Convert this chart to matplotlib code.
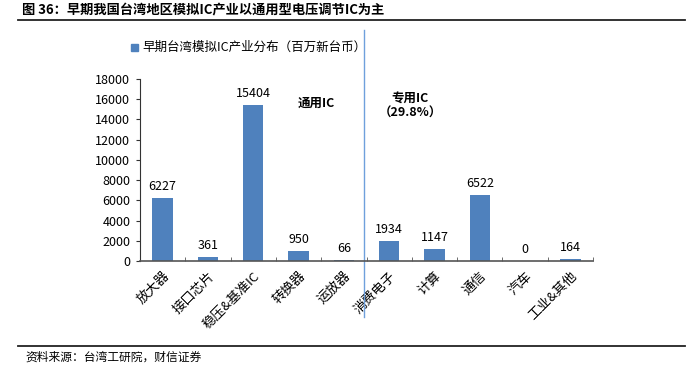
import matplotlib
matplotlib.use("Agg")
import matplotlib.pyplot as plt
from matplotlib.lines import Line2D

plt.rcParams['font.family'] = ['Noto Sans CJK SC', 'DejaVu Sans']

categories = ["放大器", "接口芯片", "稳压&基准IC", "转换器", "运放器",
              "消费电子", "计算", "通信", "汽车", "工业&其他"]
values = [6227, 361, 15404, 950, 66, 1934, 1147, 6522, 0, 164]
series_name = "早期台湾模拟IC产业分布（百万新台币）"
yticks = list(range(0, 18001, 2000))

bar_color = "#4F81BD"

fig = plt.figure(figsize=(6.88, 3.78), dpi=100)
ax = fig.add_axes([0.2035, 0.3095, 0.6585, 0.4815])

x = list(range(len(categories)))
bars = ax.bar(x, values, width=0.45, color=bar_color, label=series_name)
for xi, v in zip(x, values):
    ax.text(xi, v + 500, f"{v}", ha="center", va="bottom", fontsize=9)

ax.set_xlim(-0.5, len(categories) - 0.5)
ax.set_ylim(0, 18000)
ax.set_yticks(yticks)
ax.set_yticklabels([str(t) for t in yticks], fontsize=9)
ax.set_xticks(x)
ax.set_xticklabels(categories, rotation=45, ha="right", rotation_mode="anchor", fontsize=9.5)
ax.tick_params(axis="x", length=0, pad=6)
ax.tick_params(axis="y", direction="out", length=3, color="#333333", pad=4)
ax.set_xticks([i + 0.5 for i in range(-1, len(categories))], minor=True)
ax.tick_params(axis="x", which="minor", direction="in", length=3, color="#555555")
for s in ["top", "right"]:
    ax.spines[s].set_visible(False)
ax.spines["left"].set_color("#333333")
ax.spines["bottom"].set_color("#555555")
ax.spines["bottom"].set_linewidth(1.2)

# divider between generic and dedicated IC
ax.plot([4.45, 4.45], [-5500, 22800], color="#6FA0DC", lw=1.0, clip_on=False)

ax.text(3.39, 15600, "通用IC", ha="center", va="center", fontsize=9, fontweight="bold")
ax.text(5.46, 16100, "专用IC", ha="center", va="center", fontsize=9, fontweight="bold")
ax.text(5.46, 14600, "（29.8%）", ha="center", va="center", fontsize=9, fontweight="bold")

# legend
fig.patches.append(plt.Rectangle((131 / 688, 1 - 51 / 378), 7 / 688, 7 / 378,
                                 transform=fig.transFigure, color=bar_color))
fig.text(142 / 688, 1 - 47.5 / 378, series_name, fontsize=9, va="center", ha="left")

# header / footer
fig.text(22 / 688, 1 - 10 / 378, "图 36：早期我国台湾地区模拟IC产业以通用型电压调节IC为主",
         fontsize=9.5, fontweight="bold", va="center", ha="left")
fig.add_artist(Line2D([18 / 688, 685 / 688], [1 - 19.5 / 378, 1 - 19.5 / 378],
                      color="#222222", lw=1.3, transform=fig.transFigure))
fig.add_artist(Line2D([18 / 688, 685 / 688], [1 - 345.5 / 378, 1 - 345.5 / 378],
                      color="#222222", lw=1.3, transform=fig.transFigure))
fig.text(25 / 688, 1 - 357 / 378, "资料来源：台湾工研院，财信证券",
         fontsize=8.5, va="center", ha="left")

fig.savefig("out.png", dpi=100)
